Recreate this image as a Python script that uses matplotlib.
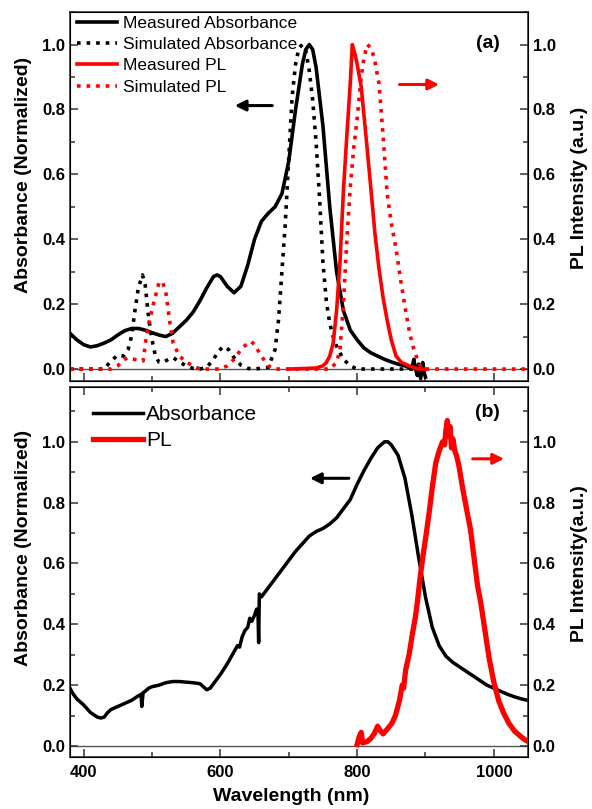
import matplotlib.pyplot as plt
from matplotlib.ticker import MultipleLocator

plt.rcParams['font.family'] = ['Liberation Sans', 'DejaVu Sans']

# ---- panel (a): measured / simulated absorbance and PL ----
abs_meas_wl = [380, 390, 400, 410, 420, 430, 440, 450, 460, 470, 480, 490, 500, 510, 520,
               530, 540, 550, 560, 570, 580, 590, 595, 600, 610, 620, 630, 640, 650, 660,
               670, 680, 690, 700, 710, 720, 725, 730, 735, 740, 750, 760, 770, 780, 790,
               800, 810, 820, 830, 840, 850, 860, 870, 875, 880, 883, 885, 888, 890, 893,
               896, 898, 900]
abs_meas = [0.11, 0.09, 0.075, 0.068, 0.072, 0.08, 0.09, 0.105, 0.118, 0.125, 0.125, 0.12,
            0.112, 0.105, 0.1, 0.11, 0.13, 0.15, 0.175, 0.21, 0.25, 0.285, 0.29, 0.285, 0.255,
            0.235, 0.255, 0.32, 0.4, 0.455, 0.48, 0.5, 0.54, 0.64, 0.8, 0.94, 0.985, 1.0,
            0.985, 0.93, 0.75, 0.5, 0.3, 0.18, 0.12, 0.09, 0.065, 0.05, 0.04, 0.03, 0.022,
            0.015, 0.01, 0.005, 0.0, 0.03, 0.005, -0.02, 0.015, -0.03, 0.02, -0.01, -0.025]

abs_sim_wl = [380, 430, 440, 450, 458, 465, 470, 475, 480, 486, 490, 495, 500, 505, 510,
              516, 524, 531, 540, 550, 560, 570, 580, 590, 597, 605, 612, 620, 630, 640,
              650, 670, 680, 685, 690, 695, 700, 705, 710, 715, 720, 725, 730, 735, 740,
              745, 750, 755, 760, 765, 770, 780, 790, 800, 900]
abs_sim = [0.0, 0.0, 0.025, 0.043, 0.04, 0.06, 0.1, 0.18, 0.25, 0.29, 0.26, 0.16, 0.09, 0.04,
           0.022, 0.02, 0.03, 0.035, 0.022, 0.01, 0.002, 0.0, 0.005, 0.03, 0.055, 0.07, 0.06,
           0.035, 0.012, 0.002, 0.0, 0.005, 0.06, 0.15, 0.3, 0.45, 0.65, 0.84, 0.94, 0.99, 1.0,
           0.98, 0.92, 0.83, 0.7, 0.53, 0.33, 0.21, 0.14, 0.1, 0.07, 0.03, 0.01, 0.0, 0.0]

pl_meas_wl = [700, 740, 750, 755, 760, 765, 770, 775, 780, 785, 790, 793, 797, 800, 806,
              812, 820, 826, 832, 838, 844, 850, 857, 865, 876, 890, 900]
pl_meas = [0.0, 0.003, 0.01, 0.02, 0.04, 0.08, 0.18, 0.33, 0.55, 0.72, 0.88, 1.0, 0.97,
           0.94, 0.87, 0.74, 0.56, 0.42, 0.31, 0.22, 0.15, 0.09, 0.04, 0.02, 0.01, 0.0, 0.0]

pl_sim_wl = [380, 440, 450, 456, 464, 474, 487, 493, 502, 510, 515, 520, 527, 531, 540,
             551, 560, 570, 600, 610, 620, 630, 640, 645, 650, 660, 670, 680, 760, 770,
             775, 780, 785, 790, 795, 800, 806, 810, 815, 820, 825, 832, 838, 844, 850,
             857, 864, 871, 877, 883, 890, 895, 1050]
pl_sim = [0.0, 0.0, 0.01, 0.025, 0.035, 0.03, 0.025, 0.12, 0.2, 0.265, 0.27, 0.24, 0.13,
          0.08, 0.04, 0.02, 0.01, 0.0, 0.0, 0.01, 0.03, 0.06, 0.08, 0.085, 0.075, 0.04, 0.01,
          0.0, 0.0, 0.02, 0.06, 0.2, 0.4, 0.56, 0.68, 0.77, 0.9, 0.96, 1.0, 0.99, 0.96, 0.88,
          0.72, 0.54, 0.45, 0.37, 0.27, 0.18, 0.11, 0.06, 0.02, 0.0, 0.0]

# ---- panel (b): absorbance and PL ----
abs_b_wl = [380, 385, 390, 400, 410, 420, 425, 430, 435, 440, 450, 460, 470, 480, 484, 485,
            487, 490, 495, 500, 510, 520, 530, 540, 550, 560, 570, 575, 580, 585, 590, 600,
            610, 620, 625, 628, 632, 636, 640, 643, 646, 650, 653, 655, 656, 657, 660, 670,
            680, 690, 700, 710, 720, 730, 740, 750, 760, 770, 780, 790, 800, 810, 820, 830,
            840, 845, 850, 860, 870, 880, 890, 900, 910, 920, 930, 940, 950, 960, 970, 980,
            990, 1000, 1010, 1020, 1030, 1040, 1050]
abs_b = [0.19, 0.17, 0.155, 0.135, 0.11, 0.095, 0.092, 0.095, 0.11, 0.12, 0.13, 0.14, 0.15,
         0.165, 0.17, 0.13, 0.175, 0.18, 0.19, 0.195, 0.2, 0.208, 0.212, 0.212, 0.21, 0.208,
         0.205, 0.195, 0.185, 0.19, 0.205, 0.235, 0.27, 0.31, 0.33, 0.325, 0.36, 0.38, 0.39,
         0.42, 0.41, 0.43, 0.45, 0.44, 0.34, 0.5, 0.49, 0.52, 0.55, 0.58, 0.61, 0.64, 0.665,
         0.69, 0.705, 0.715, 0.73, 0.75, 0.78, 0.81, 0.86, 0.905, 0.945, 0.98, 1.0, 1.0,
         0.99, 0.955, 0.88, 0.76, 0.62, 0.49, 0.39, 0.33, 0.295, 0.275, 0.26, 0.245, 0.23,
         0.215, 0.2, 0.19, 0.18, 0.17, 0.162, 0.155, 0.15]

pl_b_wl = [800, 803, 806, 808, 815, 820, 825, 830, 834, 838, 844, 851, 856, 862, 866, 868,
           871, 876, 881, 885, 888, 892, 896, 900, 905, 910, 915, 920, 925, 928, 930, 932,
           934, 936, 938, 940, 943, 946, 949, 955, 960, 966, 971, 976, 981, 987, 993, 1000,
           1007, 1014, 1022, 1030, 1040, 1046, 1050]
pl_b = [0.005, 0.03, 0.045, 0.01, 0.015, 0.025, 0.04, 0.065, 0.05, 0.04, 0.055, 0.075, 0.1,
        0.15, 0.2, 0.19, 0.25, 0.3, 0.37, 0.42, 0.47, 0.55, 0.62, 0.68, 0.76, 0.85, 0.93, 0.97,
        1.0, 0.99, 1.04, 1.07, 1.02, 1.05, 0.98, 1.01, 0.97, 0.95, 0.92, 0.84, 0.78, 0.71,
        0.62, 0.53, 0.47, 0.38, 0.29, 0.21, 0.15, 0.11, 0.075, 0.05, 0.03, 0.02, 0.015]

RED = '#ff0000'
SPINE = '#333333'

fig = plt.figure(figsize=(5.92, 8.09), dpi=100)
ax1 = fig.add_axes([0.1182, 0.529, 0.7737, 0.456])
ax2 = fig.add_axes([0.1182, 0.0643, 0.7737, 0.4573])


def style_axis(ax, ylim, top_ticks, bottom_labels):
    ax.set_xlim(380, 1050)
    ax.set_ylim(*ylim)
    ax.xaxis.set_major_locator(MultipleLocator(200))
    ax.xaxis.set_minor_locator(MultipleLocator(100))
    ax.yaxis.set_major_locator(MultipleLocator(0.2))
    ax.yaxis.set_minor_locator(MultipleLocator(0.1))
    ax.tick_params(which='both', direction='in', top=top_ticks, labelbottom=bottom_labels,
                   colors=SPINE, labelcolor='black')
    ax.tick_params(which='major', length=6, width=1.1)
    ax.tick_params(which='minor', length=3.5, width=1.1)
    ax.tick_params(axis='x', pad=6)
    for lab in ax.get_xticklabels() + ax.get_yticklabels():
        lab.set_fontweight('bold')
        lab.set_fontsize(12)
    for sp in ax.spines.values():
        sp.set_color(SPINE)
        sp.set_linewidth(1.2)
    ax.axhline(0, color='#555555', lw=1.0, zorder=1)


def style_twin(tw, ylim):
    tw.set_ylim(*ylim)
    tw.yaxis.set_major_locator(MultipleLocator(0.2))
    tw.yaxis.set_minor_locator(MultipleLocator(0.1))
    tw.tick_params(which='both', direction='in', colors=SPINE, labelcolor='black')
    tw.tick_params(which='major', length=6, width=1.1)
    tw.tick_params(which='minor', length=3.5, width=1.1)
    for lab in tw.get_yticklabels():
        lab.set_fontweight('bold')
        lab.set_fontsize(12)


def fmt(v, pos):
    return f'{v:.1f}' if v <= 1.05 else ''


# panel (a)
ylim_a = (-0.037, 1.1)
style_axis(ax1, ylim_a, top_ticks=False, bottom_labels=False)
ax1.yaxis.set_major_formatter(fmt)
l1, = ax1.plot(abs_meas_wl, abs_meas, color='black', lw=2.6, label='Measured Absorbance')
l2, = ax1.plot(abs_sim_wl, abs_sim, color='black', lw=2.6, ls=':', label='Simulated Absorbance')
tw1 = ax1.twinx()
style_twin(tw1, ylim_a)
tw1.yaxis.set_major_formatter(fmt)
l3, = tw1.plot(pl_meas_wl, pl_meas, color=RED, lw=2.6, label='Measured PL')
l4, = tw1.plot(pl_sim_wl, pl_sim, color=RED, lw=2.6, ls=':', label='Simulated PL')
ax1.set_ylabel('Absorbance (Normalized)', fontsize=14, fontweight='bold')
ax1.yaxis.set_label_coords(-0.083, 0.558)
tw1.set_ylabel('PL Intensity (a.u.)', fontsize=14, fontweight='bold')
tw1.yaxis.set_label_coords(1.094, 0.523)
tw1.legend(handles=[l1, l2, l3, l4], loc='upper left', bbox_to_anchor=(0.015, 0.99),
           frameon=False, fontsize=12.5, handlelength=2.3, handletextpad=0.35,
           labelspacing=0.35, borderpad=0, borderaxespad=0)
tw1.text(0.912, 0.915, '(a)', transform=ax1.transAxes, fontsize=14, fontweight='bold',
         ha='center', va='center')
tw1.annotate('', xy=(617, 0.812), xytext=(680, 0.812),
             arrowprops=dict(arrowstyle='-|>', color='black', lw=2.2, mutation_scale=16))
tw1.annotate('', xy=(924, 0.877), xytext=(858, 0.877),
             arrowprops=dict(arrowstyle='-|>', color=RED, lw=2.2, mutation_scale=16))

# panel (b)
ylim_b = (-0.036, 1.18)
style_axis(ax2, ylim_b, top_ticks=True, bottom_labels=True)
ax2.yaxis.set_major_formatter(fmt)
m1, = ax2.plot(abs_b_wl, abs_b, color='black', lw=2.5, label='Absorbance')
tw2 = ax2.twinx()
style_twin(tw2, ylim_b)
tw2.yaxis.set_major_formatter(fmt)
m2, = tw2.plot(pl_b_wl, pl_b, color=RED, lw=3.8, label='PL')
ax2.set_ylabel('Absorbance (Normalized)', fontsize=14, fontweight='bold')
ax2.yaxis.set_label_coords(-0.083, 0.565)
tw2.set_ylabel('PL Intensity(a.u.)', fontsize=14, fontweight='bold')
tw2.yaxis.set_label_coords(1.094, 0.524)
ax2.set_xlabel('Wavelength (nm)', fontsize=14, fontweight='bold')
ax2.xaxis.set_label_coords(0.484, -0.084)
tw2.legend(handles=[m1, m2], loc='upper left', bbox_to_anchor=(0.05, 0.951),
           frameon=False, fontsize=15, handlelength=2.4, handletextpad=0.15,
           labelspacing=0.34, borderpad=0, borderaxespad=0)
tw2.text(0.912, 0.93, '(b)', transform=ax2.transAxes, fontsize=14, fontweight='bold',
         ha='center', va='center')
tw2.annotate('', xy=(727, 0.88), xytext=(792, 0.88),
             arrowprops=dict(arrowstyle='-|>', color='black', lw=2.2, mutation_scale=16))
tw2.annotate('', xy=(1019, 0.944), xytext=(965, 0.944),
             arrowprops=dict(arrowstyle='-|>', color=RED, lw=2.2, mutation_scale=16))

fig.savefig('out.png', dpi=100)
